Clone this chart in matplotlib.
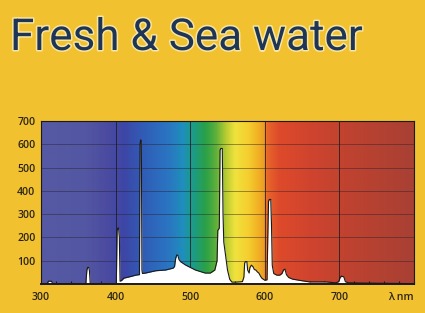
import numpy as np
import matplotlib
matplotlib.use("Agg")
import matplotlib.pyplot as plt
from matplotlib.colors import LinearSegmentedColormap, to_rgb
import matplotlib.patheffects as pe
from matplotlib.ticker import MultipleLocator

# ---------------- data ----------------
title = "Fresh & Sea water"

wavelength = [300, 308, 310, 314, 316,
              360, 361.5, 362.5, 364, 365, 366,
              400, 401, 402, 403, 404, 405, 406, 408, 411, 420, 427, 431,
              432, 432.8, 433.5, 434.5, 435.3, 436, 440, 454, 467, 477,
              479, 480.5, 482, 483.5, 485, 487, 494, 507, 520, 527, 533,
              536, 537, 539, 540, 541, 543, 544, 545, 547, 550, 553, 556,
              561, 570, 572, 573, 574, 576, 577, 579, 580, 582, 584, 586,
              588, 590, 592, 594, 596, 600, 603,
              604, 605, 606, 608, 609, 610, 612, 616, 620, 623, 625, 627,
              629, 632, 637, 646, 660, 682, 695,
              699, 701, 703, 706, 708, 712, 730, 760, 790, 800]
intensity = [0, 0, 12, 12, 0,
             0, 60, 71, 71, 55, 0,
             0, 5, 230, 240, 240, 200, 12, 15, 25, 32, 38, 40,
             40, 600, 619, 615, 60, 45, 47, 57, 60, 68,
             75, 110, 125, 122, 105, 96, 81, 60, 47, 47, 60,
             100, 230, 240, 575, 582, 582, 300, 180, 133, 60, 20, 8,
             8, 10, 30, 90, 96, 96, 60, 47, 70, 81, 75, 62,
             60, 52, 47, 35, 25, 16, 18,
             200, 355, 363, 363, 250, 80, 45, 38, 38, 45, 60, 64,
             40, 28, 21, 16, 9, 9, 5,
             10, 28, 34, 30, 10, 5, 4, 3, 2, 0]

y_ticks = [100, 200, 300, 400, 500, 600, 700]
x_ticks = [300, 400, 500, 600, 700]
x_unit = "λ nm"

# background spectrum colour stops
bg_wl = [300, 360, 390, 410, 440, 470, 490, 505, 520, 535, 548, 560, 578, 592,
         598, 603, 620, 660, 700, 800]
bg_col = ["#5659a2", "#5356a2", "#4a4aa0", "#3d46a6", "#2f5fb8", "#2a75c2",
          "#1f8fbc", "#1c9c84", "#2aa048", "#5fb03a", "#b8cc32", "#f0e23c",
          "#f5cf30", "#f1b024", "#eea024", "#e8682a", "#de4a2a", "#d0442e",
          "#c2432f", "#a84034"]

# ---------------- figure ----------------
W, H = 425, 313
fig = plt.figure(figsize=(W / 100, H / 100), dpi=100)
fig.patch.set_facecolor("#f2c12f")

ax = fig.add_axes([41 / W, 1 - 284 / H, (414 - 41) / W, (284 - 121) / H])
ax.set_xlim(300, 800)
ax.set_ylim(0, 700)

# gradient background
pos = [(w - 300) / 500 for w in bg_wl]
cmap = LinearSegmentedColormap.from_list("spec", list(zip(pos, [to_rgb(c) for c in bg_col])))
grad = np.linspace(0, 1, 500).reshape(1, -1)
ax.imshow(grad, cmap=cmap, aspect="auto", extent=[300, 800, 0, 700],
          interpolation="bilinear", zorder=0)

# grid
for yv in y_ticks[:-1]:
    ax.axhline(yv, color="#2a2230", lw=0.6, alpha=0.55, zorder=1)
for xv in x_ticks[1:]:
    ax.axvline(xv, color="#1a1a1a", lw=0.7, alpha=0.8, zorder=1)

# spectrum
ax.fill_between(wavelength, intensity, 0, color="white", zorder=2, lw=0)
ax.plot(wavelength, intensity, color="#1a1a1a", lw=0.8, zorder=3)

# axes styling
for s in ax.spines.values():
    s.set_color("#1a1a1a")
    s.set_linewidth(0.8)
ax.spines["bottom"].set_linewidth(1.4)

tick_font = dict(family=["Open Sans", "DejaVu Sans"], size=7.6, weight="semibold")
ax.set_yticks(y_ticks)
ax.set_yticklabels([str(v) for v in y_ticks], **tick_font, color="#2a2418")
ax.set_xticks(x_ticks)
ax.set_xticklabels([str(v) for v in x_ticks], **tick_font, color="#2a2418")
ax.xaxis.set_minor_locator(MultipleLocator(20))
ax.tick_params(axis="y", length=0, pad=4)
ax.tick_params(axis="x", which="major", length=0, pad=6)
ax.tick_params(axis="x", which="minor", direction="in", length=2.5, width=0.8,
               color="#1a1a1a")
ax.text(800, -0.05, x_unit, transform=ax.get_xaxis_transform(), ha="right",
        va="top", color="#2a2418", **tick_font)

# title, fitted to width
t = fig.text(10 / W, 1 - 50 / H, title, ha="left", va="baseline",
             color="#1e3558", fontsize=30, weight="normal",
             family=["Roboto", "DejaVu Sans"],
             path_effects=[pe.withStroke(linewidth=2.2, foreground="#f6e6a0")])
fig.canvas.draw()
bb = t.get_window_extent()
t.set_fontsize(30 * 352 / bb.width)

fig.savefig("out.png", dpi=100, facecolor=fig.get_facecolor())
